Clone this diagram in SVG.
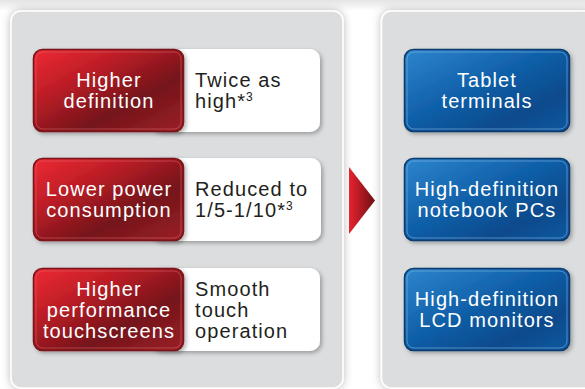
<svg xmlns="http://www.w3.org/2000/svg" width="585" height="389" viewBox="0 0 585 389">
  <defs>
    <linearGradient id="topBand" x1="0" y1="0" x2="0" y2="1">
      <stop offset="0" stop-color="#e4e4e4"/>
      <stop offset="1" stop-color="#ffffff"/>
    </linearGradient>
    <linearGradient id="redFill" x1="0" y1="0" x2="1" y2="1">
      <stop offset="0" stop-color="#ee2a34"/>
      <stop offset="0.3" stop-color="#c01e27"/>
      <stop offset="0.65" stop-color="#74141a"/>
      <stop offset="1" stop-color="#9a2127"/>
    </linearGradient>
    <linearGradient id="blueFill" x1="0" y1="0" x2="1" y2="1">
      <stop offset="0" stop-color="#2e86cd"/>
      <stop offset="0.45" stop-color="#0f5fa8"/>
      <stop offset="0.75" stop-color="#0a4a8c"/>
      <stop offset="1" stop-color="#0c58a0"/>
    </linearGradient>
    <linearGradient id="arrowFill" x1="0" y1="0" x2="1" y2="0">
      <stop offset="0" stop-color="#e8222e"/>
      <stop offset="1" stop-color="#6c1014"/>
    </linearGradient>
    <filter id="panelShadow" x="-10%" y="-10%" width="120%" height="120%">
      <feDropShadow dx="0" dy="0" stdDeviation="4" flood-color="#000" flood-opacity="0.28"/>
    </filter>
    <filter id="boxShadow" x="-10%" y="-15%" width="125%" height="135%">
      <feDropShadow dx="2" dy="2" stdDeviation="2" flood-color="#000" flood-opacity="0.3"/>
    </filter>
  </defs>
  <style>
    .panel { fill: #dcdddf; stroke: #ffffff; stroke-width: 1.5; filter: url(#panelShadow); }
    .card { fill: #ffffff; filter: url(#boxShadow); }
    .red { fill: url(#redFill); stroke: #7a1418; stroke-width: 1.5; filter: url(#boxShadow); }
    .redHi { fill: none; stroke: #e0636a; stroke-opacity: 0.55; stroke-width: 1; }
    .blue { fill: url(#blueFill); stroke: #083a6e; stroke-width: 1.5; filter: url(#boxShadow); }
    .blueHi { fill: none; stroke: #7fb6e6; stroke-opacity: 0.6; stroke-width: 1; }
    .lbl { font-family: "Liberation Sans", Arial, sans-serif; font-size: 20px; letter-spacing: 1.1px; }
    .w { fill: #ffffff; text-anchor: middle; }
    .d { fill: #231f20; }
    .sup { font-size: 12px; }
  </style>

  <rect width="585" height="389" fill="#ffffff"/>
  <rect width="585" height="11" fill="url(#topBand)"/>

  <!-- panels -->
  <rect class="panel" x="11" y="11" width="332" height="377" rx="10"/>
  <rect class="panel" x="381.5" y="11" width="215" height="377" rx="10"/>

  <!-- connector: arrow between panels -->
  <g id="connectors">
    <polygon points="349,167 375,200.5 349,234" fill="url(#arrowFill)"/>
  </g>

  <!-- feature rows -->
  <g id="row-definition">
    <rect class="card" x="150" y="49" width="170" height="83" rx="10"/>
    <rect class="red" x="33.5" y="49.5" width="150" height="82" rx="9"/>
    <rect class="redHi" x="36" y="52" width="145" height="77" rx="7"/>
    <text class="lbl w" x="109" y="87">Higher</text>
    <text class="lbl w" x="109" y="108">definition</text>
    <text class="lbl d" x="195" y="87">Twice as</text>
    <text class="lbl d" x="195" y="108">high*<tspan class="sup" dy="-7">3</tspan></text>
  </g>

  <g id="row-power">
    <rect class="card" x="150" y="158" width="171" height="83" rx="10"/>
    <rect class="red" x="33.5" y="158.5" width="150" height="82" rx="9"/>
    <rect class="redHi" x="36" y="161" width="145" height="77" rx="7"/>
    <text class="lbl w" x="109" y="196">Lower power</text>
    <text class="lbl w" x="109" y="217">consumption</text>
    <text class="lbl d" x="195" y="196">Reduced to</text>
    <text class="lbl d" x="195" y="217">1/5-1/10*<tspan class="sup" dy="-7">3</tspan></text>
  </g>

  <g id="row-touch">
    <rect class="card" x="150" y="268" width="170" height="83" rx="10"/>
    <rect class="red" x="33.5" y="268.5" width="150" height="82" rx="9"/>
    <rect class="redHi" x="36" y="271" width="145" height="77" rx="7"/>
    <text class="lbl w" x="109" y="296">Higher</text>
    <text class="lbl w" x="109" y="317">performance</text>
    <text class="lbl w" x="109" y="338">touchscreens</text>
    <text class="lbl d" x="195" y="296">Smooth</text>
    <text class="lbl d" x="195" y="317">touch</text>
    <text class="lbl d" x="195" y="338">operation</text>
  </g>

  <!-- applications -->
  <g id="app-tablet">
    <rect class="blue" x="404.5" y="49.5" width="165" height="82" rx="9"/>
    <rect class="blueHi" x="407" y="52" width="160" height="77" rx="7"/>
    <text class="lbl w" x="487" y="87">Tablet</text>
    <text class="lbl w" x="487" y="108">terminals</text>
  </g>

  <g id="app-notebook">
    <rect class="blue" x="404.5" y="158.5" width="165" height="82" rx="9"/>
    <rect class="blueHi" x="407" y="161" width="160" height="77" rx="7"/>
    <text class="lbl w" x="487" y="196">High-definition</text>
    <text class="lbl w" x="487" y="217">notebook PCs</text>
  </g>

  <g id="app-monitor">
    <rect class="blue" x="404.5" y="268.5" width="165" height="82" rx="9"/>
    <rect class="blueHi" x="407" y="271" width="160" height="77" rx="7"/>
    <text class="lbl w" x="487" y="306">High-definition</text>
    <text class="lbl w" x="487" y="327">LCD monitors</text>
  </g>
</svg>
